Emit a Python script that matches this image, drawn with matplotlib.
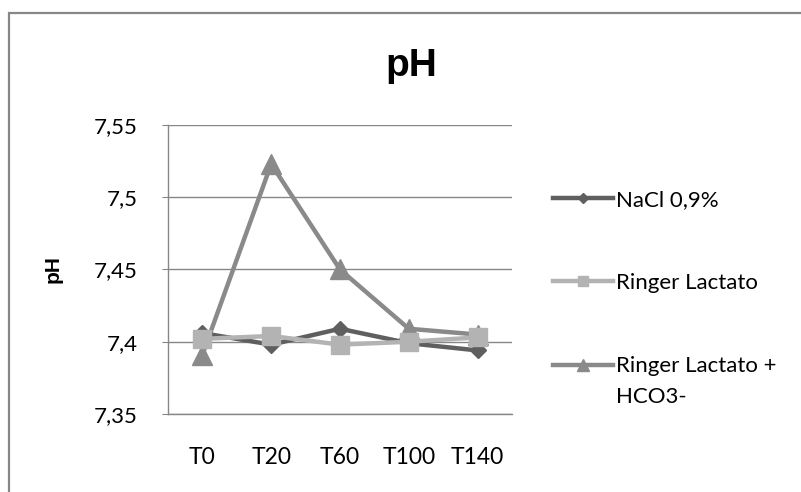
import numpy as np
from matplotlib import pyplot as plt
from matplotlib.patches import Rectangle

categories = ["T0", "T20", "T60", "T100", "T140"]
nacl = [7.406, 7.398, 7.409, 7.399, 7.394]
ringer = [7.402, 7.404, 7.398, 7.400, 7.403]
ringer_hco3 = [7.391, 7.523, 7.450, 7.409, 7.405]
yticks = [7.35, 7.40, 7.45, 7.50, 7.55]
ytick_labels = ["7,35", "7,4", "7,45", "7,5", "7,55"]

txt_font = "Lato"
arial = "Liberation Sans"

fig = plt.figure(figsize=(8.01, 4.92), dpi=100)
ax = fig.add_axes([168/801, 1 - 414/492, 344/801, 289/492])

# outer chart frame
fig.add_artist(Rectangle((9/801, -0.1), 1.2, 1.1 - 13/492, transform=fig.transFigure,
                         fill=False, edgecolor="#878787", linewidth=1.6))

x = np.arange(len(categories))
ax.plot(x, nacl, color="#5f5f5f", linewidth=3.2, marker="D", markersize=8,
        label="NaCl 0,9%", zorder=3)
ax.plot(x, ringer, color="#b3b3b3", linewidth=3.2, marker="s", markersize=13,
        label="Ringer Lactato", zorder=4)
ax.plot(x, ringer_hco3, color="#8a8a8a", linewidth=3.2, marker="^", markersize=14,
        label="Ringer Lactato +", zorder=2)

ax.set_xlim(-0.5, len(categories) - 0.5)
ax.set_ylim(7.35, 7.55)
ax.set_yticks(yticks)
ax.set_yticklabels(ytick_labels, fontsize=16, family=txt_font)
ax.set_xticks(x)
ax.set_xticklabels(categories, fontsize=16.5, family=txt_font)
ax.tick_params(axis="x", length=0, pad=24)
ax.tick_params(axis="y", length=4, color="#878787", pad=18)
ax.yaxis.grid(True, color="#878787", linewidth=1)
ax.set_axisbelow(True)
for s in ["top", "right"]:
    ax.spines[s].set_visible(False)
for s in ["left", "bottom"]:
    ax.spines[s].set_color("#878787")
    ax.spines[s].set_linewidth(1)

ax.set_ylabel("pH", fontsize=15, fontweight="bold", family=arial)
ax.yaxis.set_label_coords(-105/344, 0.5)
fig.text(411/801, 1 - 66/492, "pH", fontsize=28, fontweight="bold", family=arial,
         ha="center", va="center")

leg = ax.legend(loc="center left", bbox_to_anchor=(553/801, 1 - 283/492),
                bbox_transform=fig.transFigure, frameon=False, borderpad=0,
                borderaxespad=0, handlelength=2.7, handletextpad=0.12,
                labelspacing=2.85, markerscale=0.6, prop={"family": txt_font, "size": 16})

# wrapped second line of the last legend label
fig.canvas.draw()
bb = leg.get_texts()[2].get_window_extent().transformed(fig.transFigure.inverted())
fig.text(bb.x0, bb.y0 - 0.022, "HCO3-", fontsize=16, family=txt_font, ha="left", va="top")

fig.savefig("out.png", dpi=100)
